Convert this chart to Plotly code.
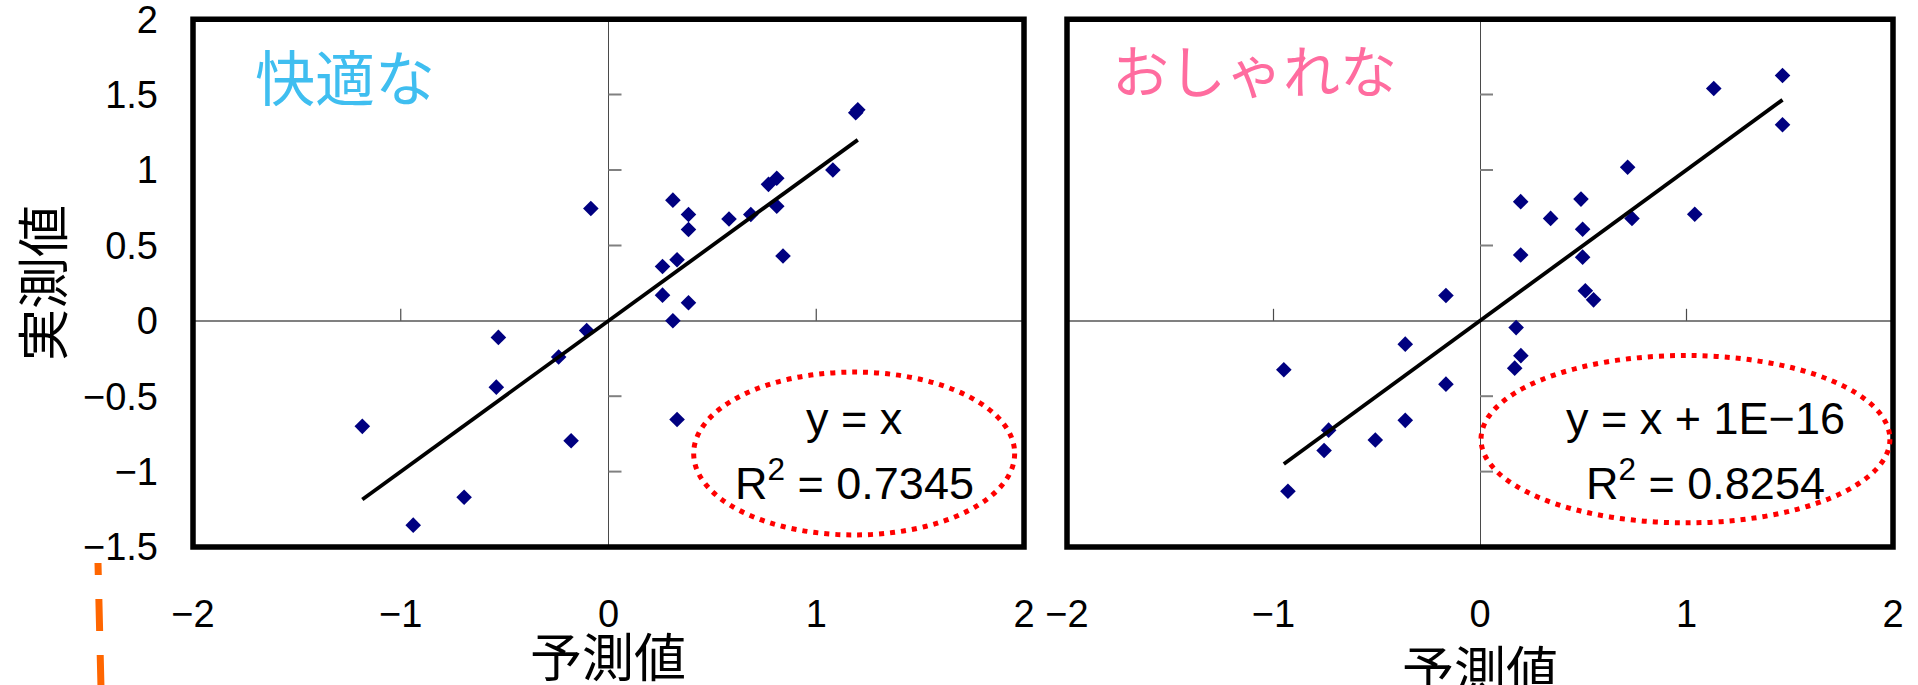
import plotly.graph_objects as go

# ---- data: predicted vs. measured scores ----
kaiteki_pred = [1.19, 1.20, 1.08, 0.81, 0.77, 0.81, 0.84, 0.685, 0.58, 0.31, 0.385, 0.385,
                0.33, 0.26, 0.26, 0.385, 0.31, 0.33, -0.085, -0.105, -0.24, -0.53, -0.54,
                -0.18, -1.185, -0.695, -0.94]
kaiteki_meas = [1.38, 1.40, 1.00, 0.945, 0.905, 0.76, 0.43, 0.705, 0.675, 0.80, 0.705, 0.605,
                0.405, 0.36, 0.17, 0.12, 0.0, -0.655, 0.745, -0.065, -0.24, -0.11, -0.44,
                -0.795, -0.70, -1.17, -1.355]

oshare_pred = [1.465, 1.132, 1.465, 0.715, 1.04, 0.736, 0.489, 0.342, 0.497, 0.197, 0.197,
               0.497, 0.51, 0.55, 0.175, 0.198, 0.168, -0.165, -0.362, -0.165, -0.362,
               -0.507, -0.733, -0.755, -0.95, -0.93]
oshare_meas = [1.627, 1.54, 1.30, 1.018, 0.707, 0.679, 0.807, 0.679, 0.607, 0.79, 0.436,
               0.422, 0.199, 0.139, -0.045, -0.231, -0.314, 0.168, -0.155, -0.42, -0.66,
               -0.79, -0.725, -0.86, -0.325, -1.13]

# linear trend lines (slope, intercept) and fit quality
kaiteki_fit = (1.0, 0.0)
oshare_fit = (1.0, 1e-16)
kaiteki_r2 = 0.7345
oshare_r2 = 0.8254

x_tickvals = [-2, -1, 0, 1, 2]
x_ticktext = ["\u22122", "\u22121", "0", "1", "2"]
y_tickvals = [-1.5, -1, -0.5, 0, 0.5, 1, 1.5, 2]
y_ticktext = ["\u22121.5", "\u22121", "\u22120.5", "0", "0.5", "1", "1.5", "2"]
minor_y_ticks = [-1, -0.5, 0.5, 1, 1.5]
minor_x_ticks = [-1, 1]

W, H = 1918, 685
NUM_FONT = "Liberation Sans, Arial, sans-serif"
JP_FONT = "Noto Sans CJK JP, sans-serif"

fig = go.Figure()

panels = [
    ("x", "y", kaiteki_pred, kaiteki_meas, kaiteki_fit),
    ("x2", "y2", oshare_pred, oshare_meas, oshare_fit),
]
for xa, ya, px, py, (slope, icpt) in panels:
    fig.add_trace(go.Scatter(
        x=px, y=py, xaxis=xa, yaxis=ya, mode="markers",
        marker=dict(symbol="diamond", size=12, color="#000080"),
        showlegend=False, hoverinfo="x+y"))
    xmin, xmax = min(px), max(px)
    fig.add_trace(go.Scatter(
        x=[xmin, xmax], y=[slope * xmin + icpt, slope * xmax + icpt],
        xaxis=xa, yaxis=ya, mode="lines",
        line=dict(color="black", width=3.8), showlegend=False, hoverinfo="skip"))

ydom = [1 - 547 / H, 1 - 19.2 / H]
common_x = dict(range=[-2, 2], tickmode="array", tickvals=x_tickvals, ticktext=x_ticktext,
                showgrid=False, zeroline=True, zerolinecolor="#4a4a4a", zerolinewidth=1,
                showline=False, ticks="", ticklabelstandoff=41, automargin=False,
                ticklabeloverflow="allow",
                tickfont=dict(family=NUM_FONT, size=38, color="black"), fixedrange=True)
common_y = dict(range=[-1.5, 2], tickmode="array", tickvals=y_tickvals, ticktext=y_ticktext,
                showgrid=False, zeroline=True, zerolinecolor="#808080", zerolinewidth=2,
                showline=False, ticks="", domain=ydom, automargin=False,
                ticklabeloverflow="allow",
                tickfont=dict(family=NUM_FONT, size=38, color="black"), fixedrange=True)

fig.update_layout(
    width=W, height=H, autosize=False,
    margin=dict(l=0, r=0, t=0, b=0, pad=0, autoexpand=False),
    paper_bgcolor="white", plot_bgcolor="white",
    xaxis=dict(domain=[193 / W, 1024 / W], anchor="y", **common_x),
    yaxis=dict(anchor="x", showticklabels=True, ticklabelstandoff=34, **common_y),
    xaxis2=dict(domain=[1067 / W, 1893 / W], anchor="y2", **common_x),
    yaxis2=dict(anchor="x2", showticklabels=False, **common_y),
)

shapes = []
for xa, ya in [("x", "y"), ("x2", "y2")]:
    # plot-area frame
    shapes.append(dict(type="rect", xref=f"{xa} domain", yref=f"{ya} domain",
                       x0=0, x1=1, y0=0, y1=1, line=dict(color="black", width=5.5),
                       layer="above"))
    # tick marks on the axes crossing at the origin
    for v in minor_y_ticks:
        shapes.append(dict(type="line", xref=xa, yref=ya, xsizemode="pixel", xanchor=0,
                           x0=0, x1=13, y0=v, y1=v, line=dict(color="#808080", width=2)))
    for v in minor_x_ticks:
        shapes.append(dict(type="line", xref=xa, yref=ya, ysizemode="pixel", yanchor=0,
                           y0=0, y1=12, x0=v, x1=v, line=dict(color="#4a4a4a", width=1.2)))

# red dotted ellipses around the regression equations
shapes.append(dict(type="circle", xref="x", yref="y", x0=0.41, x1=1.955, y0=-1.42, y1=-0.34,
                   line=dict(color="#FF0000", width=5, dash="5px,6px")))
shapes.append(dict(type="circle", xref="x2", yref="y2", x0=0.005, x1=1.985, y0=-1.34, y1=-0.23,
                   line=dict(color="#FF0000", width=5, dash="5px,6px")))

# orange dashed guide at the lower left
shapes.append(dict(type="line", xref="paper", yref="paper",
                   x0=98 / W, x1=101 / W, y0=1 - 563 / H, y1=1 - 688 / H,
                   line=dict(color="#FF6600", width=7, dash="12px,24px,32px,24px,32px")))
fig.update_layout(shapes=shapes)


def label(text, xpx, ypx, size, color="black", family=JP_FONT, angle=0):
    return dict(text=text, x=xpx / W, y=1 - ypx / H, xref="paper", yref="paper",
                xanchor="center", yanchor="middle", textangle=angle, showarrow=False,
                font=dict(family=family, size=size, color=color))


ann = [
    label("快適な", 345, 74, 60, "#3FBEF0"),
    label("おしゃれな", 1254, 68, 57, "#FF6C9F"),
    label("実測値", 40, 283, 52, angle=-90),
    label("予測値", 608, 654, 52),
    label("予測値", 1480, 667, 52),
]


def eq_text(slope, icpt):
    s = "y = x" if slope == 1 else f"y = {slope:g}x"
    if icpt != 0:
        mant, exp = f"{icpt:.0E}".split("E")
        s += f" + {mant}E\u2212{int(exp[1:])}"
    return s


for xc, (slope, icpt), r2 in [(854, kaiteki_fit, kaiteki_r2), (1705, oshare_fit, oshare_r2)]:
    ann.append(label(eq_text(slope, icpt), xc, 418, 45, family=NUM_FONT))
    ann.append(label(f"R<sup>2</sup> = {r2:.4f}", xc, 480, 45, family=NUM_FONT))
fig.update_layout(annotations=ann)

fig.write_html("out.html")
